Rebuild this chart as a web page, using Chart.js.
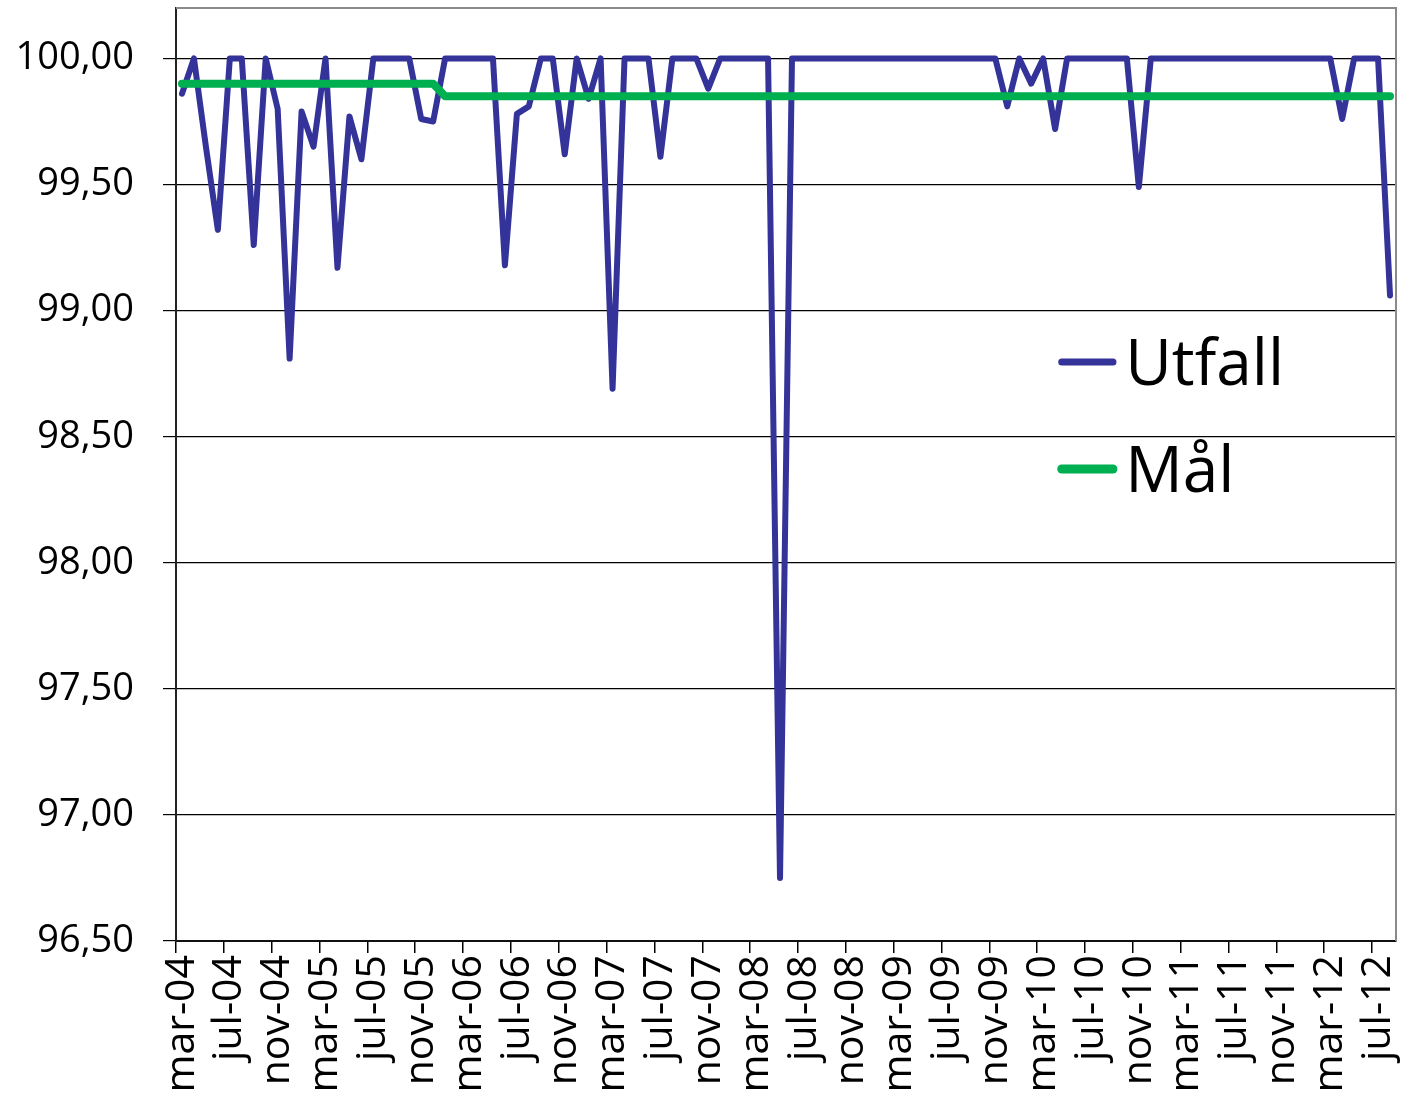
<!DOCTYPE html>
<html>
<head>
<meta charset="utf-8">
<script src="https://cdn.jsdelivr.net/npm/chart.js@4"></script>
<style>
  body { margin: 0; background: #fff; }
  #wrap { width: 1403px; height: 1099px; }
</style>
</head>
<body>
<div id="wrap"><canvas id="chart" width="1403" height="1099"></canvas></div>
<script>
/* =========================
   DATA
========================= */
const monthNames = ["jan", "feb", "mar", "apr", "maj", "jun", "jul", "aug", "sep", "okt", "nov", "dec"];

// mar-04 .. aug-12, one category per month
const categories = [];
for (let y = 2004, m = 2; y < 2012 || (y === 2012 && m <= 7); m++) {
  if (m > 11) { m = 0; y++; }
  categories.push(monthNames[m] + "-" + String(y).slice(2));
}

const utfall = [
  99.86, 100, 99.65, 99.32, 100, 100, 99.26, 100, 99.80, 98.81,
  99.79, 99.65, 100, 99.17, 99.77, 99.60, 100, 100, 100, 100,
  99.76, 99.75, 100, 100, 100, 100, 100, 99.18, 99.78, 99.81,
  100, 100, 99.62, 100, 99.84, 100, 98.69, 100, 100, 100,
  99.61, 100, 100, 100, 99.88, 100, 100, 100, 100, 100,
  96.75, 100, 100, 100, 100, 100, 100, 100, 100, 100,
  100, 100, 100, 100, 100, 100, 100, 100, 100, 99.81,
  100, 99.90, 100, 99.72, 100, 100, 100, 100, 100, 100,
  99.49, 100, 100, 100, 100, 100, 100, 100, 100, 100,
  100, 100, 100, 100, 100, 100, 100, 99.76, 100, 100,
  100, 99.06
];

const mal = [
  99.90, 99.90, 99.90, 99.90, 99.90, 99.90, 99.90, 99.90, 99.90, 99.90,
  99.90, 99.90, 99.90, 99.90, 99.90, 99.90, 99.90, 99.90, 99.90, 99.90,
  99.90, 99.90, 99.85, 99.85, 99.85, 99.85, 99.85, 99.85, 99.85, 99.85,
  99.85, 99.85, 99.85, 99.85, 99.85, 99.85, 99.85, 99.85, 99.85, 99.85,
  99.85, 99.85, 99.85, 99.85, 99.85, 99.85, 99.85, 99.85, 99.85, 99.85,
  99.85, 99.85, 99.85, 99.85, 99.85, 99.85, 99.85, 99.85, 99.85, 99.85,
  99.85, 99.85, 99.85, 99.85, 99.85, 99.85, 99.85, 99.85, 99.85, 99.85,
  99.85, 99.85, 99.85, 99.85, 99.85, 99.85, 99.85, 99.85, 99.85, 99.85,
  99.85, 99.85, 99.85, 99.85, 99.85, 99.85, 99.85, 99.85, 99.85, 99.85,
  99.85, 99.85, 99.85, 99.85, 99.85, 99.85, 99.85, 99.85, 99.85, 99.85,
  99.85, 99.85
];

const yTicks = [96.5, 97, 97.5, 98, 98.5, 99, 99.5, 100];

const BLUE = "#333399";
const GREEN = "#00B050";
const FONT = "'Open Sans', 'DejaVu Sans', sans-serif";

/* =========================
   PLUGINS
========================= */
// grey frame on top and right of the plot area
const framePlugin = {
  id: "frame",
  beforeDatasetsDraw(chart) {
    const { ctx, chartArea: a } = chart;
    ctx.save();
    ctx.strokeStyle = "#8a8a8a";
    ctx.lineWidth = 2;
    ctx.beginPath();
    ctx.moveTo(a.left, a.top);
    ctx.lineTo(a.right, a.top);
    ctx.lineTo(a.right, a.bottom);
    ctx.stroke();
    ctx.restore();
  }
};

// legend drawn inside the plot, right side
const legendPlugin = {
  id: "insideLegend",
  afterDraw(chart) {
    const { ctx, chartArea: a } = chart;
    const w = a.right - a.left, h = a.bottom - a.top;
    const items = [
      { text: "Utfall", color: BLUE, width: 7, fy: 0.3794 },
      { text: "Mål", color: GREEN, width: 9, fy: 0.4941 }
    ];
    ctx.save();
    ctx.font = "64px " + FONT;
    ctx.textBaseline = "alphabetic";
    ctx.textAlign = "left";
    ctx.lineCap = "round";
    items.forEach(it => {
      const y = a.top + it.fy * h;
      ctx.strokeStyle = it.color;
      ctx.lineWidth = it.width;
      ctx.beginPath();
      ctx.moveTo(a.left + 0.726 * w, y);
      ctx.lineTo(a.left + 0.768 * w, y);
      ctx.stroke();
      ctx.fillStyle = "#000";
      ctx.fillText(it.text, a.left + 0.778 * w, y + 23);
    });
    ctx.restore();
  }
};

function noPad(s) {
  s.paddingTop = 0;
  s.paddingBottom = 0;
  s.paddingLeft = 0;
  s.paddingRight = 0;
}

/* =========================
   CHART
========================= */
new Chart(document.getElementById("chart"), {
  type: "line",
  data: {
    labels: categories,
    datasets: [
      {
        label: "Utfall",
        data: utfall,
        borderColor: BLUE,
        borderWidth: 6,
        pointRadius: 0,
        tension: 0,
        borderJoinStyle: "round",
        borderCapStyle: "round",
        order: 1
      },
      {
        label: "Mål",
        data: mal,
        borderColor: GREEN,
        borderWidth: 8,
        pointRadius: 0,
        tension: 0,
        borderJoinStyle: "round",
        borderCapStyle: "round",
        order: 0
      }
    ]
  },
  options: {
    responsive: false,
    animation: false,
    layout: { padding: { top: 8, right: 7, left: 0, bottom: 0 } },
    plugins: {
      legend: { display: false },
      tooltip: { enabled: false }
    },
    scales: {
      x: {
        offset: true,
        grid: {
          offset: true,
          drawOnChartArea: false,
          tickLength: 12,
          lineWidth: 1.5,
          color: c => (c.index % 4 === 0 ? "#000" : "rgba(0,0,0,0)")
        },
        border: { display: true, color: "#111", width: 2 },
        ticks: {
          autoSkip: false,
          minRotation: 90,
          maxRotation: 90,
          padding: 2,
          color: "#000",
          font: { family: FONT, size: 41 },
          callback: function (val, i) {
            return i % 4 === 0 ? this.getLabelForValue(val) : "";
          }
        },
        afterFit: s => { s.height = 158; noPad(s); }
      },
      y: {
        min: 96.5,
        max: 100.2,
        afterBuildTicks: s => { s.ticks = yTicks.map(v => ({ value: v })); },
        grid: { color: "#000", lineWidth: 1.2, tickLength: 13 },
        border: { display: true, color: "#222", width: 2 },
        ticks: {
          padding: 29,
          color: "#000",
          font: { family: FONT, size: 38 },
          callback: v => v.toFixed(2).replace(".", ",")
        },
        afterFit: s => { s.width = 176; noPad(s); }
      }
    }
  },
  plugins: [framePlugin, legendPlugin]
});
</script>
</body>
</html>
